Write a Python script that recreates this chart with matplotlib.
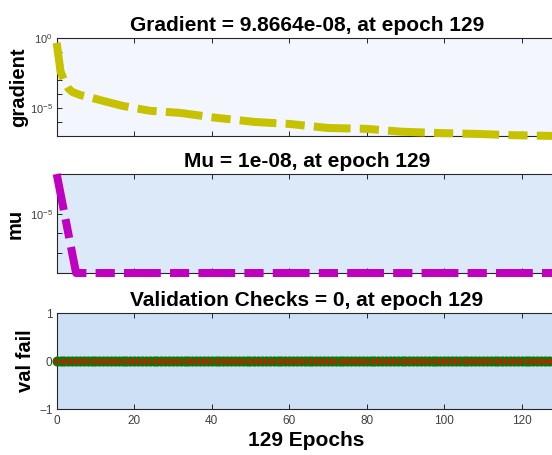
import matplotlib
matplotlib.use("Agg")
import matplotlib.pyplot as plt
from matplotlib.ticker import FixedLocator, FuncFormatter, NullLocator

plt.rcParams['font.family'] = ['Liberation Sans', 'DejaVu Sans']
plt.rcParams['mathtext.fontset'] = 'custom'
plt.rcParams['mathtext.rm'] = 'Liberation Sans'
plt.rcParams['mathtext.it'] = 'Liberation Sans'

# ---- data ----
grad_epochs = [0, 1, 2, 3, 4, 6, 8, 12, 17, 24, 32, 41, 51, 60, 70, 80, 89, 99, 108, 118, 129]
grad_vals = [0.45, 4e-3, 8e-4, 2.5e-4, 1.4e-4, 8.5e-5, 6.3e-5, 3.2e-5, 1.4e-5, 6.3e-6,
             4.4e-6, 2.0e-6, 1.0e-6, 7.2e-7, 3.7e-7, 3.2e-7, 2.0e-7, 1.6e-7, 1.4e-7,
             1.12e-7, 9.8664e-8]
mu_epochs = [0, 1, 2, 3, 4, 5, 129]
mu_vals = [1e-3, 1e-4, 1e-5, 1e-6, 1e-7, 1e-8, 1e-8]
val_epochs = list(range(130))
val_fail = [0] * 130

titles = ["Gradient = 9.8664e-08, at epoch 129",
          "Mu = 1e-08, at epoch 129",
          "Validation Checks = 0, at epoch 129"]
ylabels = ["gradient", "mu", "val fail"]
xlabel = "129 Epochs"
xticks = [0, 20, 40, 60, 80, 100, 120]

W, H = 552, 455
fig = plt.figure(figsize=(W / 100, H / 100), dpi=100)
left = 56.7 / W
width = (556.6 - 56.7) / W

def rect(top_px, bot_px):
    return [left, 1 - bot_px / H, width, (bot_px - top_px) / H]

ax1 = fig.add_axes(rect(38, 136))
ax2 = fig.add_axes(rect(174, 273))
ax3 = fig.add_axes(rect(313, 409))

bgs = ['#f3f7fd', '#dce9f9', '#cee0f6']
spine_c = '#262626'
lw_px = 8
lw = lw_px * 0.72
dash = (0, (4.6, 1.15, 2.4, 1.15))
label_right = [28, 25, 35]

for ax, bg, t, yl, lr in zip([ax1, ax2, ax3], bgs, titles, ylabels, label_right):
    ax.set_facecolor(bg)
    ax.set_xlim(0, 129)
    ax.set_xticks(xticks)
    ax.tick_params(direction='in', top=True, right=True, length=3.6, width=0.7,
                   colors=spine_c, labelsize=8.5, pad=3)
    ax.tick_params(axis='x', pad=4.5)
    ax.tick_params(which='minor', length=0)
    for s in ax.spines.values():
        s.set_color(spine_c)
        s.set_linewidth(0.8)
    ax.set_title(t, fontsize=15, fontweight='bold', pad=5)
    ax.set_ylabel(yl, fontsize=14.5, fontweight='bold')
    ax.yaxis.set_label_coords((lr - 56.7) / (556.6 - 56.7), 0.5)

# gradient
ax1.plot(grad_epochs, grad_vals, color='#c6c200', lw=lw, linestyle=dash,
         solid_capstyle='butt', dash_capstyle='butt', clip_on=False, zorder=3)
ax1.set_yscale('log')
ax1.set_ylim(9.8664e-8, 1)
ax1.yaxis.set_major_locator(FixedLocator([10.0 ** k for k in range(-7, 1)]))
ax1.yaxis.set_minor_locator(NullLocator())
ax1.yaxis.set_major_formatter(FuncFormatter(
    lambda v, p: {1.0: r'$10^{0}$', 1e-5: r'$10^{-5}$'}.get(round(v, 12), '')))
ax1.set_xticklabels([])

# mu
ax2.plot(mu_epochs, mu_vals, color='#c000c0', lw=lw, linestyle=dash,
         solid_capstyle='butt', dash_capstyle='butt', clip_on=False, zorder=3)
ax2.set_yscale('log')
ax2.set_ylim(1e-8, 1e-3)
ax2.yaxis.set_major_locator(FixedLocator([10.0 ** k for k in range(-8, -2)]))
ax2.yaxis.set_minor_locator(NullLocator())
ax2.yaxis.set_major_formatter(FuncFormatter(
    lambda v, p: r'$10^{-5}$' if abs(v - 1e-5) < 1e-9 else ''))
ax2.set_xticklabels([])

# val fail
ax3.plot(val_epochs, val_fail, linestyle='none', marker='o', markersize=6,
         markerfacecolor='#ff0000', markeredgecolor='#008000', markeredgewidth=1.3,
         clip_on=False, zorder=3)
ax3.set_ylim(-1, 1)
ax3.set_yticks([-1, 0, 1])
ax3.set_xlabel(xlabel, fontsize=15, fontweight='bold', labelpad=3)

for ax in [ax1, ax2]:
    ax.tick_params(axis='y', labelsize=8)
for ax in [ax1, ax2, ax3]:
    for lab in ax.get_xticklabels() + ax.get_yticklabels():
        lab.set_color('#404040')

fig.savefig('out.png', dpi=100)
